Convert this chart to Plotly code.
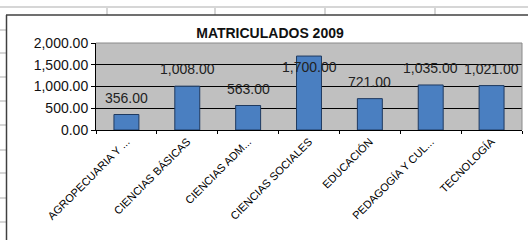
import plotly.graph_objects as go

categories = ["AGROPECUARIA Y ...", "CIENCIAS BÁSICAS", "CIENCIAS ADM...",
              "CIENCIAS SOCIALES", "EDUCACIÓN", "PEDAGOGÍA Y CUL...", "TECNOLOGÍA"]
values = [356, 1008, 563, 1700, 721, 1035, 1021]
y_tick_values = [0, 500, 1000, 1500, 2000]
title_text = "MATRICULADOS 2009"

W, H = 528, 240
L, R, T, B = 96, 6, 43, 110
PW, PH = W - L - R, H - T - B
FONT = "Liberation Sans, Arial, sans-serif"


def px(x):
    return (x - L) / PW


def py(y):
    return (H - B - y) / PH


fig = go.Figure()
fig.add_trace(go.Bar(
    x=categories, y=values,
    marker=dict(color="#4a7fc1", line=dict(color="#1f3a60", width=1)),
    hoverinfo="x+y",
))

ymax = y_tick_values[-1]
ann = []
for c, v in zip(categories, values):
    fits = v + 0.2 * ymax <= ymax
    ann.append(dict(
        x=c, y=v, xref="x", yref="y", text=f"{v:,.2f}", showarrow=False,
        yanchor="bottom" if fits else "top", yshift=7 if fits else -1,
        font=dict(family=FONT, size=14, color="#222222"),
    ))

shapes = []
grey = "#d6d6d6"
# spreadsheet top row line
shapes.append(dict(type="line", xref="paper", yref="paper", x0=px(0), x1=px(W),
                   y0=py(7), y1=py(7), line=dict(color=grey, width=2)))
for xv in [107, 215, 325, 435]:
    shapes.append(dict(type="line", xref="paper", yref="paper", x0=px(xv), x1=px(xv),
                       y0=py(8), y1=py(15), line=dict(color=grey, width=2)))
for yv in [30, 53, 77, 101, 125, 150, 173, 198, 222]:
    shapes.append(dict(type="line", xref="paper", yref="paper", x0=px(0), x1=px(6),
                       y0=py(yv), y1=py(yv), line=dict(color=grey, width=2)))
# chart frame
shapes.append(dict(type="line", xref="paper", yref="paper", x0=px(6), x1=px(W),
                   y0=py(15), y1=py(15), line=dict(color="#404040", width=1.5)))
shapes.append(dict(type="line", xref="paper", yref="paper", x0=px(6.5), x1=px(6.5),
                   y0=py(15), y1=py(H), line=dict(color="#404040", width=1.5)))
# plot area border (top/right)
shapes.append(dict(type="line", xref="paper", yref="paper", x0=0, x1=1, y0=1, y1=1,
                   line=dict(color="#8a8a8a", width=1)))
shapes.append(dict(type="line", xref="paper", yref="paper", x0=1, x1=1, y0=0, y1=1,
                   line=dict(color="#8a8a8a", width=1)))

fig.update_layout(
    width=W, height=H,
    margin=dict(l=L, r=R, t=T, b=B, pad=0, autoexpand=False),
    paper_bgcolor="white", plot_bgcolor="#c0c0c0",
    showlegend=False, bargap=0.59,
    title=dict(text=f"<b>{title_text}</b>", x=270 / W, xref="container", xanchor="center",
               y=1 - 33 / H, yref="container", yanchor="middle",
               font=dict(family=FONT, size=14, color="#111111")),
    annotations=ann, shapes=shapes,
    font=dict(family=FONT, color="#111111"),
)
fig.update_yaxes(range=[0, ymax], tickvals=y_tick_values, tickformat=",.2f",
                 showgrid=True, gridcolor="#000000", gridwidth=1,
                 showline=True, linecolor="#000000", linewidth=1,
                 ticks="outside", ticklen=4, tickcolor="#000000",
                 tickfont=dict(family=FONT, size=14, color="#111111"),
                 zeroline=False, fixedrange=True, automargin=False)
fig.update_xaxes(showline=True, linecolor="#000000", linewidth=1,
                 ticks="outside", ticklen=3, tickcolor="#000000",
                 tickson="boundaries", tickangle=-45,
                 tickfont=dict(family=FONT, size=11, color="#000000"),
                 fixedrange=True, automargin=False)

fig.write_html("out.html", config={"displayModeBar": False},
               post_script="document.body.style.margin='0';")
